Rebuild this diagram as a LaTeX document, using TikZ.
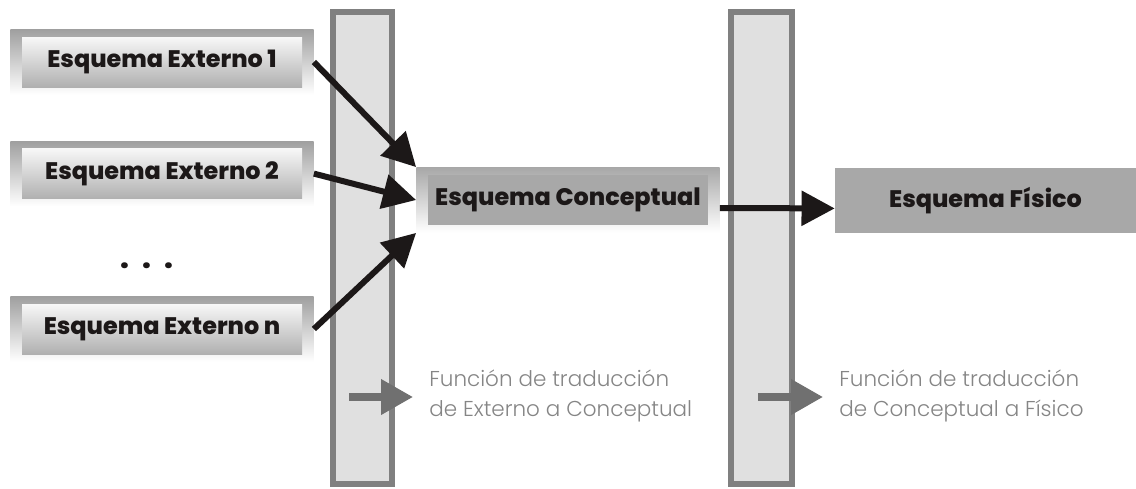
\documentclass[tikz,border=0pt]{standalone}
\usepackage{fontspec}
\setmainfont{Poppins}
\IfFontExistsTF{Poppins Light}{\newfontfamily\lightfont{Poppins Light}}{\newfontfamily\lightfont{Poppins}}
\IfFontExistsTF{Poppins ExtraBold}{\newfontfamily\heavyfont{Poppins ExtraBold}}{\newfontfamily\heavyfont{Poppins Bold}}
\usetikzlibrary{arrows.meta}
\definecolor{barfill}{HTML}{E0E0E0}
\definecolor{barline}{HTML}{808080}
\definecolor{boxgray}{HTML}{A8A8A8}
\definecolor{inkblack}{HTML}{1C1818}
\definecolor{notegray}{HTML}{858585}
\definecolor{arrowgray}{HTML}{707070}
\begin{document}
\begin{tikzpicture}[
    every node/.style={align=center},
    bar/.style={draw=barline, line width=0.15cm, fill=barfill},
    label font/.style={text=inkblack, font=\heavyfont\fontsize{17}{20}\selectfont},
    frame/.style={minimum width=7.58cm, minimum height=1.63cm, top color=gray!75, bottom color=white},
    conceptual frame/.style={frame, top color=boxgray, bottom color=white},
    extbox/.style={label font, minimum width=7cm, minimum height=1.25cm, top color=gray!6, bottom color=gray!62},
    conceptual box/.style={label font, minimum width=7cm, minimum height=1.25cm, fill=boxgray},
    physical box/.style={label font, minimum width=7.525cm, minimum height=1.625cm, fill=boxgray},
    note/.style={align=left, anchor=west, inner sep=0pt, text=notegray, font=\lightfont\fontsize{15.3}{21.3}\selectfont},
    bold arrow/.style={draw=inkblack, line width=0.15cm, -{Triangle[length=0.83cm, width=0.85cm]}},
    gray arrow/.style={draw=arrowgray, line width=0.18cm, shorten >=0.4cm, -{Triangle[length=0.8cm, width=0.85cm]}},
    ]
\useasboundingbox (0,0) rectangle (28.4,-12.2);
% translation barriers
\draw[bar] (8.325,-0.3) rectangle (9.8,-12.1);
\draw[bar] (18.275,-0.3) rectangle (19.8,-12.1);
% external schemas
\node[frame] (e1f) at (4.05,-1.55) {};
\node[extbox] (e1) at (4.05,-1.55) {Esquema Externo 1};
\node[frame] (e2f) at (4.05,-4.34) {};
\node[extbox] (e2) at (4.05,-4.34) {Esquema Externo 2};
\node[label font, font=\heavyfont\fontsize{21}{24}\selectfont, anchor=base] (dots) at (3.675,-6.7) {.\hspace{0.45em}.\hspace{0.45em}.};
\node[frame] (enf) at (4.05,-8.225) {};
\node[extbox] (en) at (4.05,-8.225) {Esquema Externo n};
% conceptual and physical schemas
\node[conceptual frame] (cf) at (14.2,-5.0) {};
\node[conceptual box] (conc) at (14.2,-5.0) {Esquema Conceptual};
\node[physical box] (fis) at (24.6375,-5.01) {Esquema Físico};
\draw[bold arrow] (e1f.east) -- (cf.north west);
\draw[bold arrow] (e2f.east) -- (cf.west);
\draw[bold arrow] (enf.east) -- (cf.south west);
\draw[bold arrow] ([yshift=-0.2cm]cf.east) -- ([yshift=-0.2cm]fis.west);
% legend
\node[note] (f1) at (10.725,-9.9) {Función de traducción\\de Externo a Conceptual};
\node[note] (f2) at (20.975,-9.9) {Función de traducción\\de Conceptual a Físico};
\coordinate (g1) at (8.725,-9.925);
\coordinate (g2) at (18.95,-9.925);
\draw[gray arrow] (g1) -- (g1 -| f1.west);
\draw[gray arrow] (g2) -- (g2 -| f2.west);
\end{tikzpicture}
\end{document}
